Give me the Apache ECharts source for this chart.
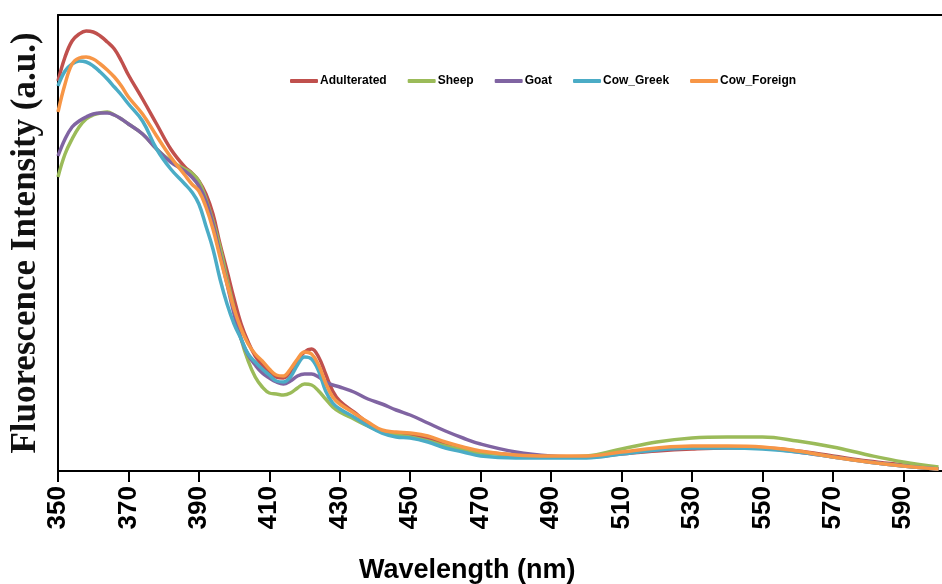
<!DOCTYPE html>
<html><head><meta charset="utf-8">
<script src="https://cdn.jsdelivr.net/npm/echarts@6/dist/echarts.min.js"></script>
<style>html,body{margin:0;padding:0;background:#fff}#c{width:942px;height:584px}</style>
</head><body><div id="c"></div>
<script>
const wavelengths = [350,352,354,356,358,360,362,364,366,368,
  370,374,378,382,386,388,390,392,394,396,
  398,400,402,404,406,408,410,412,414,416,
  418,420,422,424,426,428,430,434,438,442,
  446,450,455,460,465,470,480,490,500,510,
  520,530,540,550,560,570,580,590,600];
const adulterated = [390,414,430,437,440,439,435,429,422,410,
  396,372,347,322,304,298,290,277,257,227,
  200,172,147,129,115,106,99,94,93,99,
  110,119,122,114,97,80,70,59,48,40,
  37,36,32,27,22,19,16,14,14,17,
  20,22,23,23,20,15,10,6,2];
const sheep = [294,317,332,344,352,356,358,359,356,352,
  347,337,322,310,302,298,290,272,250,224,
  192,162,132,110,94,84,78,77,76,78,
  83,87,86,80,72,64,59,52,45,39,
  36,34,30,25,21,18,16,14,15,22,
  29,33,34,34,30,24,16,9,4];
const goat = [315,332,344,350,354,357,358,358,356,352,
  347,337,322,309,300,294,285,270,247,217,
  187,157,132,116,106,98,93,89,87,90,
  95,97,97,94,89,86,84,79,72,67,
  61,56,48,40,33,27,19,15,14,18,
  21,23,24,23,19,14,9,5,2];
const cowGreek = [385,400,407,410,409,405,399,392,384,376,
  367,350,322,302,287,279,267,245,222,192,
  167,147,132,117,109,102,96,90,89,94,
  106,114,112,100,80,68,62,54,45,38,
  34,33,29,23,19,15,13,13,13,17,
  21,23,23,22,19,14,9,5,2];
const cowForeign = [359,387,407,413,414,412,407,401,394,385,
  374,357,335,314,296,287,280,264,242,214,
  187,162,142,127,117,110,102,96,95,102,
  112,119,117,106,88,74,67,58,49,41,
  39,38,35,29,24,20,16,15,15,19,
  23,25,25,24,20,14,9,5,2];
const seriesNames = ['Adulterated','Sheep','Goat','Cow_Greek','Cow_Foreign'];
const seriesValues = [adulterated, sheep, goat, cowGreek, cowForeign];
const seriesColors = ['#C0504D','#9BBB59','#8064A2','#4BACC6','#F79646'];
const xTicks = [350,370,390,410,430,450,470,490,510,530,550,570,590];

const chart = echarts.init(document.getElementById('c'), null, {renderer:'canvas'});
chart.setOption({
  animation:false,
  backgroundColor:'#fff',
  grid:{left:55, right:0, top:15, bottom:113, containLabel:false},
  legend:{
    left:290, top:75, padding:0, itemWidth:28, itemHeight:4, icon:'roundRect', itemGap:21,
    data:seriesNames,
    textStyle:{fontFamily:'"Liberation Sans",Arial,sans-serif', fontWeight:'bold', fontSize:12, color:'#000', padding:[0,0,0,-3]}
  },
  xAxis:[{
    type:'value', min:350, max:601, position:'bottom',
    axisLine:{show:true, onZero:false, lineStyle:{color:'#000', width:2}},
    axisTick:{show:true, inside:false, length:11, lineStyle:{color:'#000', width:2}, customValues:xTicks},
    axisLabel:{rotate:90, customValues:xTicks, margin:15, fontSize:26, fontWeight:'bold',
      fontFamily:'"Liberation Sans",Arial,sans-serif', color:'#000'},
    splitLine:{show:false}
  },{
    type:'value', min:350, max:601, position:'top',
    axisLine:{show:true, onZero:false, lineStyle:{color:'#000', width:2}},
    axisTick:{show:false}, axisLabel:{show:false}, splitLine:{show:false}
  }],
  yAxis:{
    type:'value', min:0, max:456,
    axisLine:{show:true, onZero:false, lineStyle:{color:'#000', width:2}},
    axisTick:{show:false}, axisLabel:{show:false}, splitLine:{show:false},
    name:'Fluorescence Intensity (a.u.)', nameLocation:'middle', nameGap:15,
    nameTextStyle:{fontFamily:'"Liberation Serif","Times New Roman",serif', fontWeight:'bold', fontSize:35, color:'#111'}
  },
  graphic:[{
    type:'text', left:359, top:557,
    style:{text:'Wavelength (nm)', fontFamily:'"Liberation Sans",Arial,sans-serif', fontWeight:'bold', fontSize:27, fill:'#000'}
  }],
  series:seriesNames.map((n,i)=>({
    name:n, type:'line', smooth:0.4, symbol:'none', xAxisIndex:0,
    color:seriesColors[i],
    lineStyle:{width:3.5, color:seriesColors[i]},
    data:wavelengths.map((w,j)=>[w, seriesValues[i][j]])
  }))
});
</script></body></html>
